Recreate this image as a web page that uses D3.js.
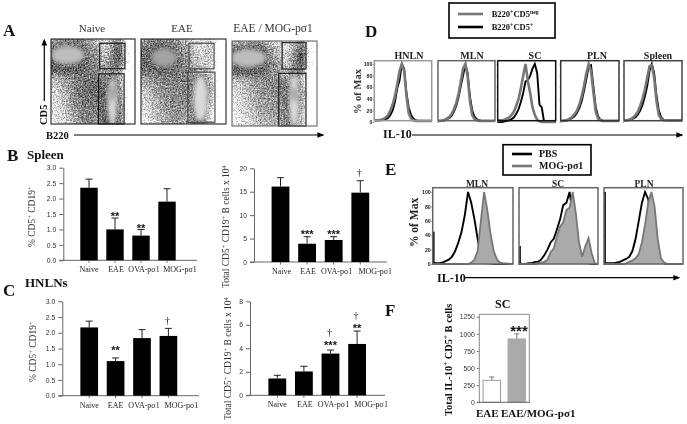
<!DOCTYPE html>
<html>
<head>
<meta charset="utf-8">
<script src="https://cdnjs.cloudflare.com/ajax/libs/d3/7.8.5/d3.min.js"></script>
<style>
  html, body { margin: 0; padding: 0; background: #fff; }
  svg { display: block; filter: blur(0.4px); }
  .ser { font-family: "Liberation Serif", serif; }
  .san { font-family: "Liberation Sans", sans-serif; }
</style>
</head>
<body>
<svg id="fig" width="687" height="424"></svg>
<script>
// ---- bar data
var groups = ["Naive", "EAE", "OVA-pσ1", "MOG-pσ1"];

var bPct = [2.35, 1.0, 0.8, 1.9];
var bPctErr = [2.63, 1.37, 1.0, 2.32];
var bPctStars = ["", "**", "**", ""];
var bPctStarAt = [0, 1.5, 1.09, 0];

var bTot = [16.1, 3.9, 4.7, 14.8];
var bTotErr = [18, 5.4, 5.4, 17.35];
var bTotStars = ["", "***", "***", ""];
var bTotStarAt = [0, 6.4, 6.4, 0];
var bTotDag = [0, 0, 0, 19];

var cPct = [2.17, 1.1, 1.83, 1.9];
var cPctErr = [2.37, 1.2, 2.1, 2.14];
var cPctStars = ["", "**", "", ""];
var cPctStarAt = [0, 1.5, 0, 0];
var cPctDag = [0, 0, 0, 2.38];

var cTot = [1.43, 2.03, 3.55, 4.37];
var cTotErr = [1.7, 2.47, 3.85, 5.47];
var cTotStars = ["", "", "***", "**"];
var cTotStarAt = [0, 0, 4.37, 5.84];
var cTotDag = [0, 0, 5.33, 6.77];

var pctTicks = [0, 0.5, 1, 1.5, 2, 2.5, 3];
var bTotTicks = [0, 5, 10, 15, 20];
var cTotTicks = [0, 2, 4, 6, 8];

var fGroups = ["EAE", "EAE/MOG-pσ1"];
var fVals = [321, 925];
var fErr = [370, 1000];
var fTicks = [0, 250, 500, 750, 1000, 1250];

// ---- flow plots: event density read per cell (top row first), gates and populations in plot units 0-100
var naiveGrid = [
  [.50,.60,.62,.66,.66,.55,.45,.35,.50,.62,.10,.00],
  [.70,.75,.75,.75,.75,.62,.55,.42,.60,.78,.16,.00],
  [.75,.78,.78,.78,.78,.66,.60,.45,.65,.82,.18,.00],
  [.78,.78,.78,.78,.78,.72,.65,.50,.68,.78,.14,.00],
  [.78,.78,.78,.78,.76,.70,.66,.55,.66,.62,.08,.00],
  [.48,.56,.62,.66,.70,.70,.70,.68,.70,.55,.04,.02],
  [.40,.46,.56,.65,.70,.72,.75,.76,.78,.62,.08,.02],
  [.36,.42,.50,.65,.72,.75,.75,.78,.78,.66,.05,.00],
  [.34,.40,.50,.62,.70,.72,.72,.78,.78,.70,.03,.00],
  [.30,.38,.48,.60,.68,.70,.68,.78,.78,.75,.02,.00],
  [.30,.36,.42,.55,.65,.68,.64,.78,.78,.75,.00,.00],
  [.26,.32,.38,.50,.60,.65,.60,.78,.78,.70,.00,.00]
];
var eaeGrid = [
  [.45,.62,.65,.65,.62,.55,.45,.35,.32,.38,.08,.00],
  [.68,.75,.75,.75,.75,.62,.52,.40,.38,.45,.10,.00],
  [.74,.75,.75,.75,.75,.68,.58,.45,.42,.48,.10,.00],
  [.76,.76,.76,.76,.76,.70,.62,.48,.42,.42,.05,.00],
  [.72,.75,.76,.76,.74,.70,.64,.56,.50,.38,.04,.00],
  [.55,.62,.66,.68,.68,.68,.68,.66,.70,.50,.05,.01],
  [.48,.52,.60,.64,.66,.66,.68,.72,.76,.55,.05,.01],
  [.40,.48,.56,.62,.64,.66,.66,.72,.76,.55,.03,.00],
  [.36,.44,.52,.60,.62,.64,.62,.72,.76,.50,.02,.00],
  [.32,.40,.50,.58,.62,.62,.60,.72,.72,.42,.00,.00],
  [.28,.36,.46,.54,.60,.60,.56,.70,.72,.35,.00,.00],
  [.24,.32,.42,.50,.56,.56,.52,.68,.70,.30,.00,.00]
];
var mogGrid = [
  [.40,.50,.55,.58,.55,.42,.38,.28,.40,.62,.14,.02],
  [.72,.76,.76,.76,.76,.55,.48,.35,.55,.80,.16,.02],
  [.76,.78,.78,.78,.78,.62,.50,.38,.60,.85,.18,.02],
  [.78,.78,.78,.78,.78,.66,.55,.40,.65,.82,.16,.02],
  [.78,.78,.78,.78,.75,.62,.58,.48,.66,.66,.08,.00],
  [.44,.50,.56,.60,.64,.64,.64,.60,.66,.48,.05,.02],
  [.36,.42,.50,.58,.62,.64,.66,.72,.76,.58,.06,.02],
  [.32,.38,.46,.54,.60,.62,.64,.74,.78,.62,.04,.00],
  [.30,.36,.44,.52,.58,.60,.60,.74,.78,.60,.02,.00],
  [.26,.34,.42,.50,.56,.58,.58,.72,.76,.55,.00,.00],
  [.24,.30,.38,.46,.52,.54,.54,.70,.72,.50,.00,.00],
  [.22,.28,.34,.42,.48,.50,.50,.68,.70,.45,.00,.00]
];
// [x0, x1, yLow, yHigh]
var naiveGates = [[58, 88, 65, 95], [56.5, 87, 0, 59]];
var eaeGates = [[56.5, 86, 65, 95], [55, 87, 2, 61]];
var mogGates = [[59, 87, 67, 98], [55, 87, 0, 62]];
// [cx, cy, rx, ry, ink]
var naivePops = [[20, 81, 20, 11, .26], [73, 26, 6, 28, .16], [73, 36, 1.8, 10, .6]];
var eaePops = [[27, 78, 15, 11, .36], [70, 30, 8.5, 27, .15]];
var mogPops = [[19, 80, 21, 11, .26], [73, 30, 6, 31, .14], [73, 37, 1.8, 9, .6]];

// ---- histograms, % of max on these IL-10 bins
var histBins = [0,4,8,12,16,20,24,28,32,36,40,44,48,52,56,60,64,68,72,76,80,84,88,92,96,100];
var dHnlnGrey = [3,3,3,4,5,8,12,20,30,45,65,88,100,88,45,15,6,3,2,2,2,2,2,2,2,2];
var dHnlnBlack = [3,3,3,3,4,5,7,12,20,35,58,72,100,92,50,25,12,6,3,2,2,2,2,2,2,2];
var dMlnGrey = [2,2,3,4,6,9,14,22,33,48,70,92,100,78,36,12,5,3,2,2,2,2,2,2,2,2];
var dMlnBlack = [2,2,2,3,5,7,11,18,28,42,62,80,100,84,44,20,9,5,3,2,2,2,2,2,2,2];
var dScGrey = [3,3,3,4,6,8,12,18,28,40,58,80,100,70,50,25,12,4,1,0,0,0,0,0,0,0];
var dScBlack = [0,0,0,1,2,3,5,8,14,22,35,50,70,72,80,92,100,85,30,25,0,0,0,0,0,0];
var dPlnGrey = [2,2,3,4,6,9,14,20,30,44,62,84,100,88,52,18,6,3,2,2,2,2,2,2,2,2];
var dPlnBlack = [2,2,2,3,5,7,10,16,24,36,54,74,96,98,62,26,10,4,2,2,2,2,2,2,2,2];
var dSpleenGrey = [3,3,4,5,8,12,18,28,40,56,76,96,98,76,36,12,5,3,3,3,3,3,3,3,3,3];
var dSpleenBlack = [3,3,3,4,6,8,13,20,30,44,62,88,100,84,46,20,8,4,3,3,3,3,3,3,3,3];

var eMlnBlack = [2,1,1,2,4,6,10,18,30,45,68,100,85,62,35,10,2,1,1,0,0,0,0,0,0,0];
var eMlnGrey = [0,0,0,0,0,0,0,0,0,0,0,0,2,6,18,60,100,75,42,18,6,2,1,1,0,0];
var eScBlack = [1,0,0,1,1,3,3,6,12,20,30,35,48,62,82,85,100,70,50,20,5,2,1,0,0,0];
var eScGrey = [0,0,0,0,0,0,1,2,3,6,16,22,38,52,58,75,78,100,70,30,10,25,36,15,1,0];
var ePlnBlack = [1,1,1,1,2,3,5,7,10,18,35,60,85,100,90,60,30,10,3,1,0,0,0,0,0,0];
var ePlnGrey = [0,0,0,0,0,0,0,1,3,5,8,14,30,55,85,100,80,35,8,2,0,0,0,0,0,0];
var eSpikes = [45, 25, 100];
var histTicks = [0, 20, 40, 60, 80, 100];

var svg = d3.select("#fig");
var defs = svg.append("defs");

function arrowDefs() {
  defs.append("marker").attr("id", "head").attr("viewBox", "0 0 10 10")
    .attr("refX", 8).attr("refY", 5).attr("markerWidth", 7).attr("markerHeight", 7)
    .attr("markerUnits", "userSpaceOnUse").attr("orient", "auto")
    .append("path").attr("d", "M0,1 L10,5 L0,9 Z").attr("fill", "#000");

  var f = defs.append("filter").attr("id", "speckle")
    .attr("x", 0).attr("y", 0).attr("width", "100%").attr("height", "100%")
    .attr("color-interpolation-filters", "sRGB");
  f.append("feGaussianBlur").attr("in", "SourceGraphic").attr("stdDeviation", 2.4).attr("result", "dens");
  f.append("feTurbulence").attr("type", "fractalNoise").attr("baseFrequency", 0.75)
    .attr("numOctaves", 2).attr("seed", 4).attr("result", "n");
  f.append("feColorMatrix").attr("in", "n").attr("type", "matrix")
    .attr("values", "1.7 0 0 0 -.35  1.7 0 0 0 -.35  1.7 0 0 0 -.35  0 0 0 0 1").attr("result", "g");
  f.append("feComposite").attr("in", "dens").attr("in2", "g").attr("operator", "arithmetic")
    .attr("k1", 0).attr("k2", 1).attr("k3", .62).attr("k4", -.17).attr("result", "mix");
  var t = f.append("feComponentTransfer").attr("in", "mix").attr("result", "hard");
  ["feFuncR", "feFuncG", "feFuncB"].forEach(function (c) {
    t.append(c).attr("type", "linear").attr("slope", 1.2).attr("intercept", -.05);
  });
  f.append("feGaussianBlur").attr("in", "hard").attr("stdDeviation", 0.35);

  defs.append("filter").attr("id", "soft").attr("x", "-40%").attr("y", "-40%").attr("width", "180%").attr("height", "180%")
    .append("feGaussianBlur").attr("stdDeviation", 2);
}

// text helper, parts are strings or [string, "sup"]
function rich(sel, parts, supSize) {
  parts.forEach(function (p) {
    if (typeof p === "string") {
      sel.append("tspan").text(p);
    } else {
      sel.append("tspan").attr("baseline-shift", "super").attr("font-size", supSize).text(p[0]);
    }
  });
  return sel;
}

function label(x, y, txt, size, opts) {
  opts = opts || {};
  var t = svg.append("text").attr("class", opts.sans ? "san" : "ser")
    .attr("x", x).attr("y", y).attr("font-size", size)
    .attr("font-weight", opts.bold ? "bold" : "normal")
    .attr("text-anchor", opts.anchor || "start")
    .attr("fill", opts.fill || "#111");
  if (opts.rotate) t.attr("transform", "rotate(-90," + x + "," + y + ")");
  if (Array.isArray(txt)) rich(t, txt, size * 0.68); else t.text(txt);
  return t;
}

function arrow(x1, y1, x2, y2) {
  svg.append("line").attr("x1", x1).attr("y1", y1).attr("x2", x2).attr("y2", y2)
    .attr("stroke", "#000").attr("stroke-width", 1.2).attr("marker-end", "url(#head)");
}

// ---- panel A
function flowPlot(id, box, grid, gates, pops, border, gateColor) {
  var g = svg.append("g");
  defs.append("clipPath").attr("id", id).append("rect")
    .attr("x", box[0]).attr("y", box[1]).attr("width", box[2] - box[0]).attr("height", box[3] - box[1]);

  var ink = d3.scaleLinear().domain([0, 1]).range(["#fff", "#000"]);
  var x = d3.scaleLinear().domain([0, 100]).range([box[0], box[2]]);
  var y = d3.scaleLinear().domain([0, 100]).range([box[3], box[1]]);
  var col = d3.scaleBand().domain(d3.range(12)).range([box[0] - 4, box[2] + 4]);
  var row = d3.scaleBand().domain(d3.range(12)).range([box[1] - 4, box[3] + 4]);

  var clip = g.append("g").attr("clip-path", "url(#" + id + ")");
  var dots = clip.append("g").attr("filter", "url(#speckle)");
  grid.forEach(function (r, i) {
    dots.selectAll(null).data(r).enter().append("rect")
      .attr("x", function (d, j) { return col(j); })
      .attr("y", row(i))
      .attr("width", col.bandwidth() + .5)
      .attr("height", row.bandwidth() + .5)
      .attr("fill", function (d) { return ink(d); });
  });
  clip.append("g").attr("filter", "url(#soft)").selectAll("ellipse").data(pops).enter().append("ellipse")
    .attr("cx", function (d) { return x(d[0]); })
    .attr("cy", function (d) { return y(d[1]); })
    .attr("rx", function (d) { return x(d[2]) - x(0); })
    .attr("ry", function (d) { return y(0) - y(d[3]); })
    .attr("fill", function (d) { return ink(d[4]); });

  g.selectAll("rect.gate").data(gates).enter().append("rect").attr("class", "gate")
    .attr("x", function (d) { return x(d[0]); })
    .attr("y", function (d) { return y(d[3]); })
    .attr("width", function (d) { return x(d[1]) - x(d[0]); })
    .attr("height", function (d) { return y(d[2]) - y(d[3]); })
    .attr("fill", "none").attr("stroke", gateColor).attr("stroke-width", 1.1);

  g.append("rect").attr("x", box[0]).attr("y", box[1])
    .attr("width", box[2] - box[0]).attr("height", box[3] - box[1])
    .attr("fill", "none").attr("stroke", border).attr("stroke-width", 1.1);
}

// ---- bar panels
function barPanel(o) {
  var g = svg.append("g");
  var y = d3.scaleLinear().domain([0, o.max]).range([o.y0, o.y1]);
  var x = d3.scaleBand().domain(groups).range([o.x0, o.x0 + o.step * 4])
    .paddingInner(0.33).paddingOuter(0.165);

  var ya = g.append("g").attr("class", "san")
    .attr("transform", "translate(" + o.axisX + ",0)")
    .call(d3.axisLeft(y).tickValues(o.ticks).tickFormat(o.fmt).tickSize(4).tickPadding(3).tickSizeOuter(0));
  ya.selectAll("text").attr("font-size", 6.8).attr("fill", "#333");
  ya.selectAll("line").attr("stroke", "#666");
  ya.select(".domain").attr("stroke", "#666");

  var xa = g.append("g").attr("class", "ser")
    .attr("transform", "translate(0," + o.y0 + ")")
    .call(d3.axisBottom(x).tickSize(2.5).tickPadding(4));
  xa.select(".domain").remove();
  xa.selectAll("line").attr("stroke", "#666");
  xa.selectAll("text").attr("font-size", 8).attr("fill", "#222")
    .attr("dx", function (d, i) { return o.labelDx[i]; });
  g.append("line").attr("x1", o.axisX - 4).attr("x2", o.xEnd)
    .attr("y1", o.y0).attr("y2", o.y0).attr("stroke", "#666");

  // error bars first, the bar hides the lower half
  g.selectAll("line.err").data(groups).enter().append("line").attr("class", "err")
    .attr("x1", function (d) { return x(d) + x.bandwidth() / 2; })
    .attr("x2", function (d) { return x(d) + x.bandwidth() / 2; })
    .attr("y1", function (d, i) { return y(o.vals[i]); })
    .attr("y2", function (d, i) { return y(o.err[i]); })
    .attr("stroke", "#222").attr("stroke-width", 1);
  g.selectAll("line.cap").data(groups).enter().append("line").attr("class", "cap")
    .attr("x1", function (d) { return x(d) + x.bandwidth() / 2 - 3.5; })
    .attr("x2", function (d) { return x(d) + x.bandwidth() / 2 + 3.5; })
    .attr("y1", function (d, i) { return y(o.err[i]); })
    .attr("y2", function (d, i) { return y(o.err[i]); })
    .attr("stroke", "#222").attr("stroke-width", 1);

  g.selectAll("rect.bar").data(groups).enter().append("rect").attr("class", "bar")
    .attr("x", function (d) { return x(d); })
    .attr("width", x.bandwidth())
    .attr("y", function (d, i) { return y(o.vals[i]); })
    .attr("height", function (d, i) { return o.y0 - y(o.vals[i]); })
    .attr("fill", "#000");

  g.selectAll("text.star").data(o.stars).enter().append("text").attr("class", "star san")
    .attr("x", function (d, i) { return x(groups[i]) + x.bandwidth() / 2; })
    .attr("y", function (d, i) { return y(o.starAt[i]); })
    .attr("dy", "0.5em").attr("text-anchor", "middle")
    .attr("font-size", 11).attr("font-weight", "bold").attr("fill", "#111")
    .text(function (d) { return d; });
  if (o.dag) {
    g.selectAll("text.dag").data(o.dag).enter().append("text").attr("class", "dag ser")
      .attr("x", function (d, i) { return x(groups[i]) + x.bandwidth() / 2 - 1; })
      .attr("y", function (d) { return y(d); })
      .attr("dy", "0.32em").attr("text-anchor", "middle")
      .attr("font-size", 10).attr("fill", "#111")
      .text(function (d) { return d ? "†" : ""; });
  }
}

// ---- histogram panels
function histPlot(o) {
  var x = d3.scaleLinear().domain([0, 100]).range([o.box[0], o.box[2]]);
  var y = d3.scaleLinear().domain([0, 100]).range([o.yBase, o.yTop]);
  var g = svg.append("g");
  var line = d3.line().x(function (d, i) { return x(histBins[i]); }).y(function (d) { return y(d); });

  g.append("rect").attr("x", o.box[0]).attr("y", o.box[1])
    .attr("width", o.box[2] - o.box[0]).attr("height", o.box[3] - o.box[1]).attr("fill", "#fff");

  var ya = g.append("g").attr("class", "san").attr("transform", "translate(" + o.box[0] + ",0)")
    .call(d3.axisLeft(y).tickValues(histTicks).tickSize(o.labels ? 1.5 : 1).tickPadding(.5)
      .tickFormat(o.labels ? null : ""));
  ya.select(".domain").remove();
  ya.selectAll("text").attr("font-size", 5.2).attr("font-weight", "bold").attr("fill", "#222");
  ya.selectAll("line").attr("stroke", "#555").attr("stroke-width", .6);

  if (o.spike) {
    g.append("line").attr("x1", x(0) + 1).attr("x2", x(0) + 1).attr("y1", y(0)).attr("y2", y(o.spike))
      .attr("stroke", "#111").attr("stroke-width", 1.8);
  }
  if (o.fill) {
    g.append("path").datum(o.black).attr("d", line).attr("fill", "none").attr("stroke", "#000").attr("stroke-width", 1.9);
    var area = d3.area().x(function (d, i) { return x(histBins[i]); }).y0(y(0)).y1(function (d) { return y(d); });
    g.append("path").datum(o.grey).attr("d", area).attr("fill", "#aaa");
    g.append("path").datum(o.grey).attr("d", line).attr("fill", "none").attr("stroke", "#777").attr("stroke-width", 1.8);
  } else {
    g.append("path").datum(o.black).attr("d", line).attr("fill", "none").attr("stroke", "#000").attr("stroke-width", 1.9);
    g.append("path").datum(o.grey).attr("d", line).attr("fill", "none").attr("stroke", "#777").attr("stroke-width", 2.6);
  }

  g.append("rect").attr("x", o.box[0]).attr("y", o.box[1])
    .attr("width", o.box[2] - o.box[0]).attr("height", o.box[3] - o.box[1])
    .attr("fill", "none").attr("stroke", o.border).attr("stroke-width", 1.5);
}

// ---- panel F
function barF() {
  var g = svg.append("g");
  var y = d3.scaleLinear().domain([0, 1250]).range([402.3, 316.7]);
  var x = d3.scaleBand().domain(fGroups).range([479.3, 529.3]).paddingInner(0.3).paddingOuter(0.15);
  var fills = ["#fff", "#aaa"];
  var strokes = ["#999", "#aaa"];

  var ya = g.append("g").attr("class", "san").attr("transform", "translate(479.3,0)")
    .call(d3.axisLeft(y).tickValues(fTicks).tickFormat(d3.format("d")).tickSize(2.5).tickPadding(2).tickSizeOuter(0));
  ya.select(".domain").remove();
  ya.selectAll("text").attr("font-size", 6.8).attr("fill", "#333");
  ya.selectAll("line").attr("stroke", "#777");

  g.selectAll("line.err").data(fGroups).enter().append("line").attr("class", "err")
    .attr("x1", function (d) { return x(d) + x.bandwidth() / 2; })
    .attr("x2", function (d) { return x(d) + x.bandwidth() / 2; })
    .attr("y1", function (d, i) { return y(fVals[i]); })
    .attr("y2", function (d, i) { return y(fErr[i]); })
    .attr("stroke", "#777");
  g.selectAll("line.cap").data(fGroups).enter().append("line").attr("class", "cap")
    .attr("x1", function (d) { return x(d) + x.bandwidth() / 2 - 2.5; })
    .attr("x2", function (d) { return x(d) + x.bandwidth() / 2 + 2.5; })
    .attr("y1", function (d, i) { return y(fErr[i]); })
    .attr("y2", function (d, i) { return y(fErr[i]); })
    .attr("stroke", "#777");
  g.selectAll("rect.bar").data(fGroups).enter().append("rect").attr("class", "bar")
    .attr("x", function (d) { return x(d); })
    .attr("width", x.bandwidth())
    .attr("y", function (d, i) { return y(fVals[i]); })
    .attr("height", function (d, i) { return y(0) - y(fVals[i]); })
    .attr("fill", function (d, i) { return fills[i]; })
    .attr("stroke", function (d, i) { return strokes[i]; });

  g.append("path").attr("d", "M479.3,403 V314.3 H529.3 V403").attr("fill", "none").attr("stroke", "#888");
  g.append("line").attr("x1", 477).attr("x2", 529.3).attr("y1", 402.3).attr("y2", 402.3).attr("stroke", "#666");

  label(476, 416.5, "EAE", 11, { bold: true });
  label(501, 416.5, "EAE/MOG-pσ1", 11, { bold: true });
  label(502.7, 308, "SC", 12, { bold: true, anchor: "middle" });
  label(519, 336, "***", 15, { bold: true, anchor: "middle", sans: true });
  label(451.5, 416, ["Total IL-10", ["+"], " CD5", ["+"], " B cells"], 10.4, { bold: true, rotate: true });
}

function legend(box, rows, size, textX, x1, x2) {
  svg.append("rect").attr("x", box[0]).attr("y", box[1]).attr("width", box[2] - box[0]).attr("height", box[3] - box[1])
    .attr("fill", "#fff").attr("stroke", "#000").attr("stroke-width", 1.6);
  rows.forEach(function (r) {
    svg.append("line").attr("x1", x1).attr("x2", x2).attr("y1", r.y).attr("y2", r.y)
      .attr("stroke", r.color).attr("stroke-width", 2.6);
    label(textX, r.y + 3, r.text, size, { bold: true });
  });
}

function dibujar() {
  arrowDefs();

  // panel A
  label(3, 36, "A", 17, { bold: true });
  label(92, 32, "Naive", 11, { anchor: "middle", fill: "#333" });
  label(182, 32, "EAE", 11, { anchor: "middle", fill: "#333" });
  label(273, 32, "EAE / MOG-pσ1", 11.5, { anchor: "middle", fill: "#333" });
  flowPlot("clipA1", [51, 39, 135, 124], naiveGrid, naiveGates, naivePops, "#222", "#111");
  flowPlot("clipA2", [141, 39, 226, 124], eaeGrid, eaeGates, eaePops, "#222", "#444");
  flowPlot("clipA3", [232, 41, 317, 126], mogGrid, mogGates, mogPops, "#666", "#111");
  label(46.5, 125, "CD5", 10.5, { bold: true, rotate: true });
  arrow(44.3, 101, 44.3, 40);
  label(46, 139, "B220", 10.5, { bold: true });
  arrow(74, 135, 323, 135);

  // panel B
  label(7, 161, "B", 17, { bold: true });
  label(27, 159, "Spleen", 13, { bold: true });
  barPanel({ vals: bPct, err: bPctErr, stars: bPctStars, starAt: bPctStarAt, ticks: pctTicks, max: 3,
    fmt: d3.format(".1f"), x0: 76, step: 26, axisX: 63.3, xEnd: 197, y0: 260.3, y1: 167.7, labelDx: [0, 1, 3, 13] });
  label(35, 247, ["% CD5", ["+"], " CD19", ["+"]], 9.5, { rotate: true, fill: "#333" });
  barPanel({ vals: bTot, err: bTotErr, stars: bTotStars, starAt: bTotStarAt, dag: bTotDag, ticks: bTotTicks, max: 20,
    fmt: d3.format("d"), x0: 267.2, step: 26.6, axisX: 254, xEnd: 387, y0: 262, y1: 168.3, labelDx: [1, 1, 3, 15] });
  label(228.5, 288, ["Total CD5", ["+"], " CD19", ["+"], " B cells x 10", ["4"]], 9.5, { rotate: true, fill: "#333" });

  // panel C
  label(3, 296, "C", 17, { bold: true });
  label(25, 287, "HNLNs", 13, { bold: true });
  barPanel({ vals: cPct, err: cPctErr, stars: cPctStars, starAt: cPctStarAt, dag: cPctDag, ticks: pctTicks, max: 3,
    fmt: d3.format(".1f"), x0: 76, step: 26.4, axisX: 62.3, xEnd: 199, y0: 395.7, y1: 301.3, labelDx: [0, 0, 2, 13] });
  label(36, 382, ["% CD5", ["+"], " CD19", ["+"]], 9.5, { rotate: true, fill: "#333" });
  barPanel({ vals: cTot, err: cTotErr, stars: cTotStars, starAt: cTotStarAt, dag: cTotDag, ticks: cTotTicks, max: 8,
    fmt: d3.format("d"), x0: 264, step: 26.6, axisX: 250, xEnd: 385, y0: 395.3, y1: 301.3, labelDx: [0, 1, 3, 14] });
  label(231, 420, ["Total CD5", ["+"], " CD19", ["+"], " B cells x 10", ["4"]], 9.5, { rotate: true, fill: "#333" });

  // panel D
  label(365, 37, "D", 17, { bold: true });
  legend([449, 3, 555, 38], [
    { y: 14, color: "#777", text: ["B220", ["+"], "CD5", ["neg"]] },
    { y: 27, color: "#000", text: ["B220", ["+"], "CD5", ["+"]] }
  ], 8.5, 491.7, 458, 483);
  var dBoxes = [[374.3, 60.7, 431.7, 120.7], [438, 60.7, 495, 120.7], [497.7, 60.7, 555.7, 120.7], [560.7, 60.7, 619, 120.7], [624, 60.7, 682, 120.7]];
  var dTitles = ["HNLN", "MLN", "SC", "PLN", "Spleen"];
  var dCentres = [409, 472, 535, 597, 658];
  var dBlack = [dHnlnBlack, dMlnBlack, dScBlack, dPlnBlack, dSpleenBlack];
  var dGrey = [dHnlnGrey, dMlnGrey, dScGrey, dPlnGrey, dSpleenGrey];
  var dBorders = ["#999", "#666", "#111", "#333", "#444"];
  dTitles.forEach(function (t, i) {
    histPlot({ box: dBoxes[i], yBase: 122, yTop: 64, black: dBlack[i], grey: dGrey[i], border: dBorders[i], labels: i === 0 });
    label(dCentres[i], 59, t, 10, { bold: true, anchor: "middle", fill: "#222" });
  });
  label(361, 114, "% of Max", 10.5, { bold: true, rotate: true, fill: "#333" });
  label(383, 138, "IL-10", 12, { bold: true });
  arrow(412, 135, 682, 135);

  // panel E
  label(385, 175, "E", 17, { bold: true });
  legend([503, 144.7, 591, 175], [
    { y: 154, color: "#000", text: "PBS" },
    { y: 166, color: "#777", text: "MOG-pσ1" }
  ], 10, 539, 512, 532);
  var eBoxes = [[432.7, 187.7, 513, 264], [519, 187.7, 598, 264], [604, 187.7, 683, 264]];
  var eTitles = ["MLN", "SC", "PLN"];
  var eCentres = [477, 558, 644];
  var eBlack = [eMlnBlack, eScBlack, ePlnBlack];
  var eGrey = [eMlnGrey, eScGrey, ePlnGrey];
  eTitles.forEach(function (t, i) {
    histPlot({ box: eBoxes[i], yBase: 264, yTop: 192, black: eBlack[i], grey: eGrey[i], border: "#666",
      labels: i === 0, fill: true, spike: eSpikes[i] });
    label(eCentres[i], 187, t, 9.5, { bold: true, anchor: "middle", fill: "#222" });
  });
  label(418, 247, "% of Max", 11.5, { bold: true, rotate: true, fill: "#222" });
  label(437, 282, "IL-10", 12, { bold: true });
  arrow(465, 277.7, 679, 277.7);

  // panel F
  label(385, 316, "F", 17, { bold: true });
  barF();
}

dibujar();
</script>
</body>
</html>
